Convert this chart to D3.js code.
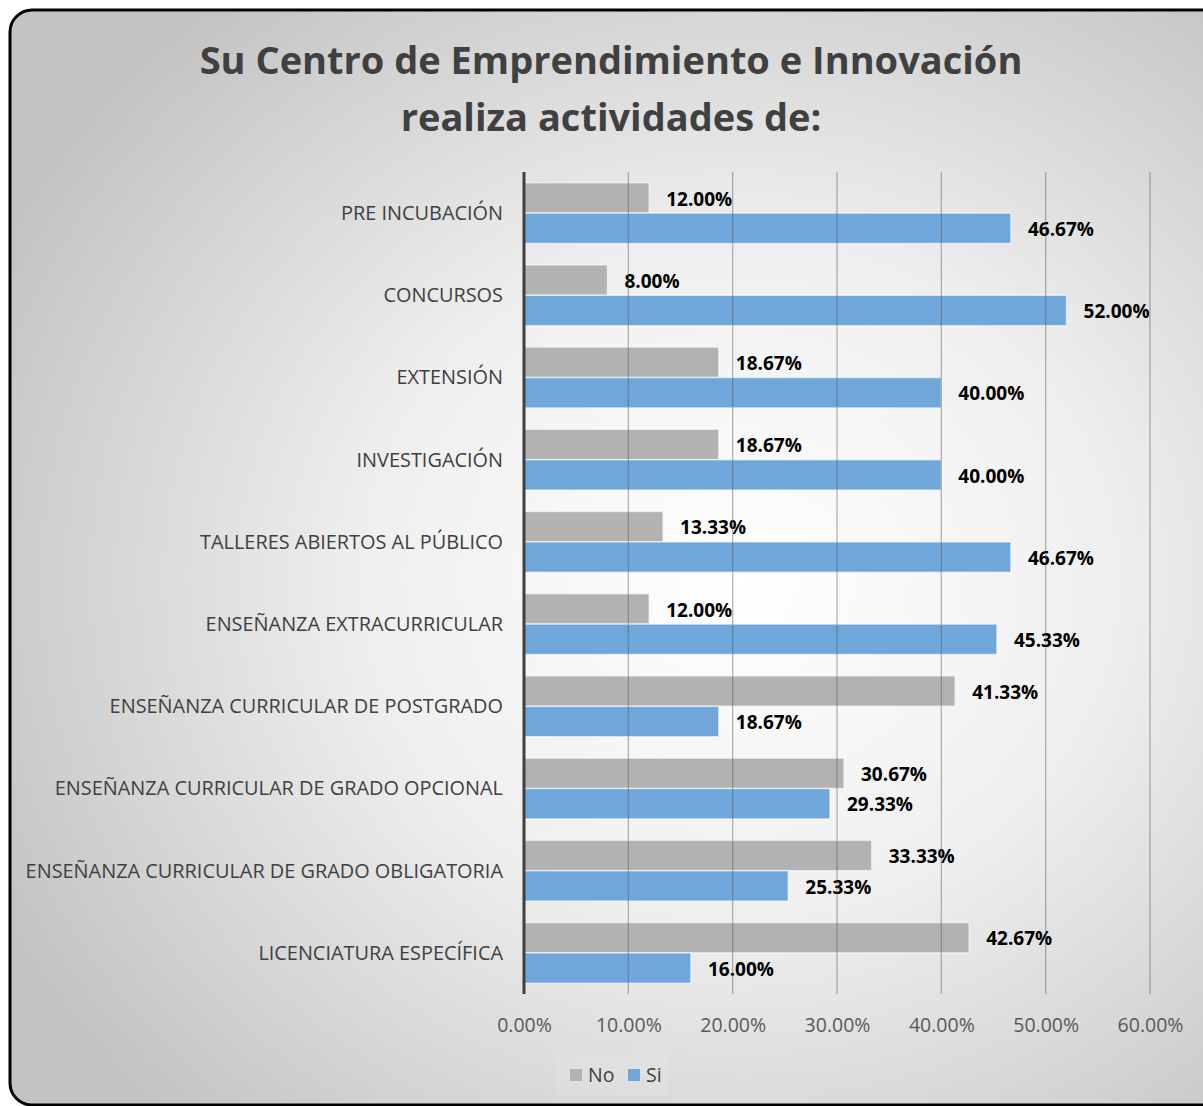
<!DOCTYPE html>
<html>
<head>
<meta charset="utf-8">
<script src="https://cdn.jsdelivr.net/npm/d3@7"></script>
<style>
  html, body { margin: 0; padding: 0; background: #fff; }
  svg { display: block; font-family: "Open Sans", sans-serif; }
</style>
</head>
<body>
<div id="chart"></div>
<script>
const categories = [
  "PRE INCUBACIÓN",
  "CONCURSOS",
  "EXTENSIÓN",
  "INVESTIGACIÓN",
  "TALLERES ABIERTOS AL PÚBLICO",
  "ENSEÑANZA EXTRACURRICULAR",
  "ENSEÑANZA CURRICULAR DE POSTGRADO",
  "ENSEÑANZA CURRICULAR DE GRADO OPCIONAL",
  "ENSEÑANZA CURRICULAR DE GRADO OBLIGATORIA",
  "LICENCIATURA ESPECÍFICA"
];
const seriesNames = ["No", "Si"];
const noValues = [12.00, 8.00, 18.67, 18.67, 13.33, 12.00, 41.33, 30.67, 33.33, 42.67];
const siValues = [46.67, 52.00, 40.00, 40.00, 46.67, 45.33, 18.67, 29.33, 25.33, 16.00];
const xTicks = [0, 10, 20, 30, 40, 50, 60];
const titleLines = ["Su Centro de Emprendimiento e Innovación", "realiza actividades de:"];

const width = 1203, height = 1106;
const colors = { No: "#b2b2b2", Si: "#70a7db" };

const svg = d3.select("#chart").append("svg")
  .attr("width", width)
  .attr("height", height);

// background gradient
const defs = svg.append("defs");
const grad = defs.append("radialGradient")
  .attr("id", "bg")
  .attr("cx", "60%").attr("cy", "52%").attr("r", "68%");
grad.append("stop").attr("offset", "0%").attr("stop-color", "#ffffff");
grad.append("stop").attr("offset", "45%").attr("stop-color", "#efefef");
grad.append("stop").attr("offset", "100%").attr("stop-color", "#c3c3c3");

svg.append("rect")
  .attr("x", 10).attr("y", 10)
  .attr("width", 1215).attr("height", 1095)
  .attr("rx", 22).attr("ry", 22)
  .attr("fill", "url(#bg)")
  .attr("stroke", "#000")
  .attr("stroke-width", 3);

// title
svg.append("g").selectAll("text")
  .data(titleLines)
  .join("text")
  .attr("x", 611)
  .attr("y", (d, i) => 74 + i * 57)
  .attr("text-anchor", "middle")
  .attr("font-size", 38)
  .attr("font-weight", 700)
  .attr("fill", "#404040")
  .text(d => d);

const margin = { left: 524, top: 172, bottom: 994 };

const x = d3.scaleLinear().domain([0, 60]).range([margin.left, margin.left + 626]);
const y = d3.scaleBand().domain(categories).range([margin.top, margin.bottom]).paddingInner(0.26).paddingOuter(0.13);
const ySub = d3.scaleBand().domain(seriesNames).range([0, y.bandwidth()]);

const rows = categories.map((c, i) => ({ cat: c, No: noValues[i], Si: siValues[i] }));

// bars
const groups = svg.append("g").selectAll("g")
  .data(rows)
  .join("g")
  .attr("transform", d => `translate(0,${y(d.cat)})`);

groups.selectAll("rect")
  .data(d => seriesNames.map(s => ({ s, v: d[s] })))
  .join("rect")
  .attr("x", x(0))
  .attr("y", d => ySub(d.s))
  .attr("width", d => x(d.v) - x(0))
  .attr("height", ySub.bandwidth())
  .attr("fill", d => colors[d.s])
  .attr("stroke", "rgba(255,255,255,0.6)")
  .attr("stroke-width", 1.5);

// gridlines drawn over the bars
svg.append("g").selectAll("line")
  .data(xTicks.slice(1))
  .join("line")
  .attr("x1", d => x(d)).attr("x2", d => x(d))
  .attr("y1", margin.top).attr("y2", margin.bottom)
  .attr("stroke", "rgba(90,90,90,0.45)")
  .attr("stroke-width", 1.3);

// data labels
groups.selectAll("text.val")
  .data(d => seriesNames.map(s => ({ s, v: d[s] })))
  .join("text")
  .attr("class", "val")
  .attr("x", d => x(d.v) + 17)
  .attr("y", d => ySub(d.s) + ySub.bandwidth() / 2 + 1)
  .attr("dy", "0.35em")
  .attr("font-size", 19)
  .attr("font-weight", 700)
  .attr("fill", "#000")
  .text(d => d.v.toFixed(2) + "%");

// vertical axis line
svg.append("line")
  .attr("x1", x(0)).attr("x2", x(0))
  .attr("y1", margin.top).attr("y2", margin.bottom)
  .attr("stroke", "#404040")
  .attr("stroke-width", 3);

// category labels
svg.append("g").selectAll("text")
  .data(categories)
  .join("text")
  .attr("x", 503)
  .attr("y", d => y(d) + y.bandwidth() / 2)
  .attr("dy", "0.35em")
  .attr("text-anchor", "end")
  .attr("font-size", 19.9)
  .attr("fill", "#404040")
  .text(d => d);

// x tick labels
const xAxis = d3.axisBottom(x).tickValues(xTicks).tickSize(0).tickPadding(0)
  .tickFormat(d => d.toFixed(2) + "%");
const ax = svg.append("g")
  .attr("transform", `translate(0,${margin.bottom + 31})`)
  .call(xAxis);
ax.select(".domain").remove();
ax.selectAll("text")
  .attr("font-family", "Open Sans, sans-serif")
  .attr("font-size", 19.5)
  .attr("fill", "#595959")
  .attr("dy", "0.35em");

// legend
const legend = svg.append("g");
legend.append("rect")
  .attr("x", 555).attr("y", 1054).attr("width", 112).attr("height", 42)
  .attr("fill", "rgba(255,255,255,0.1)");
const li = legend.selectAll("g")
  .data(seriesNames)
  .join("g")
  .attr("transform", (d, i) => `translate(${570 + i * 58},1075)`);
li.append("rect")
  .attr("x", 0).attr("y", -6).attr("width", 12).attr("height", 12)
  .attr("fill", d => colors[d]);
li.append("text")
  .attr("x", 18).attr("dy", "0.35em")
  .attr("font-size", 19.5)
  .attr("fill", "#404040")
  .text(d => d);
</script>
</body>
</html>
